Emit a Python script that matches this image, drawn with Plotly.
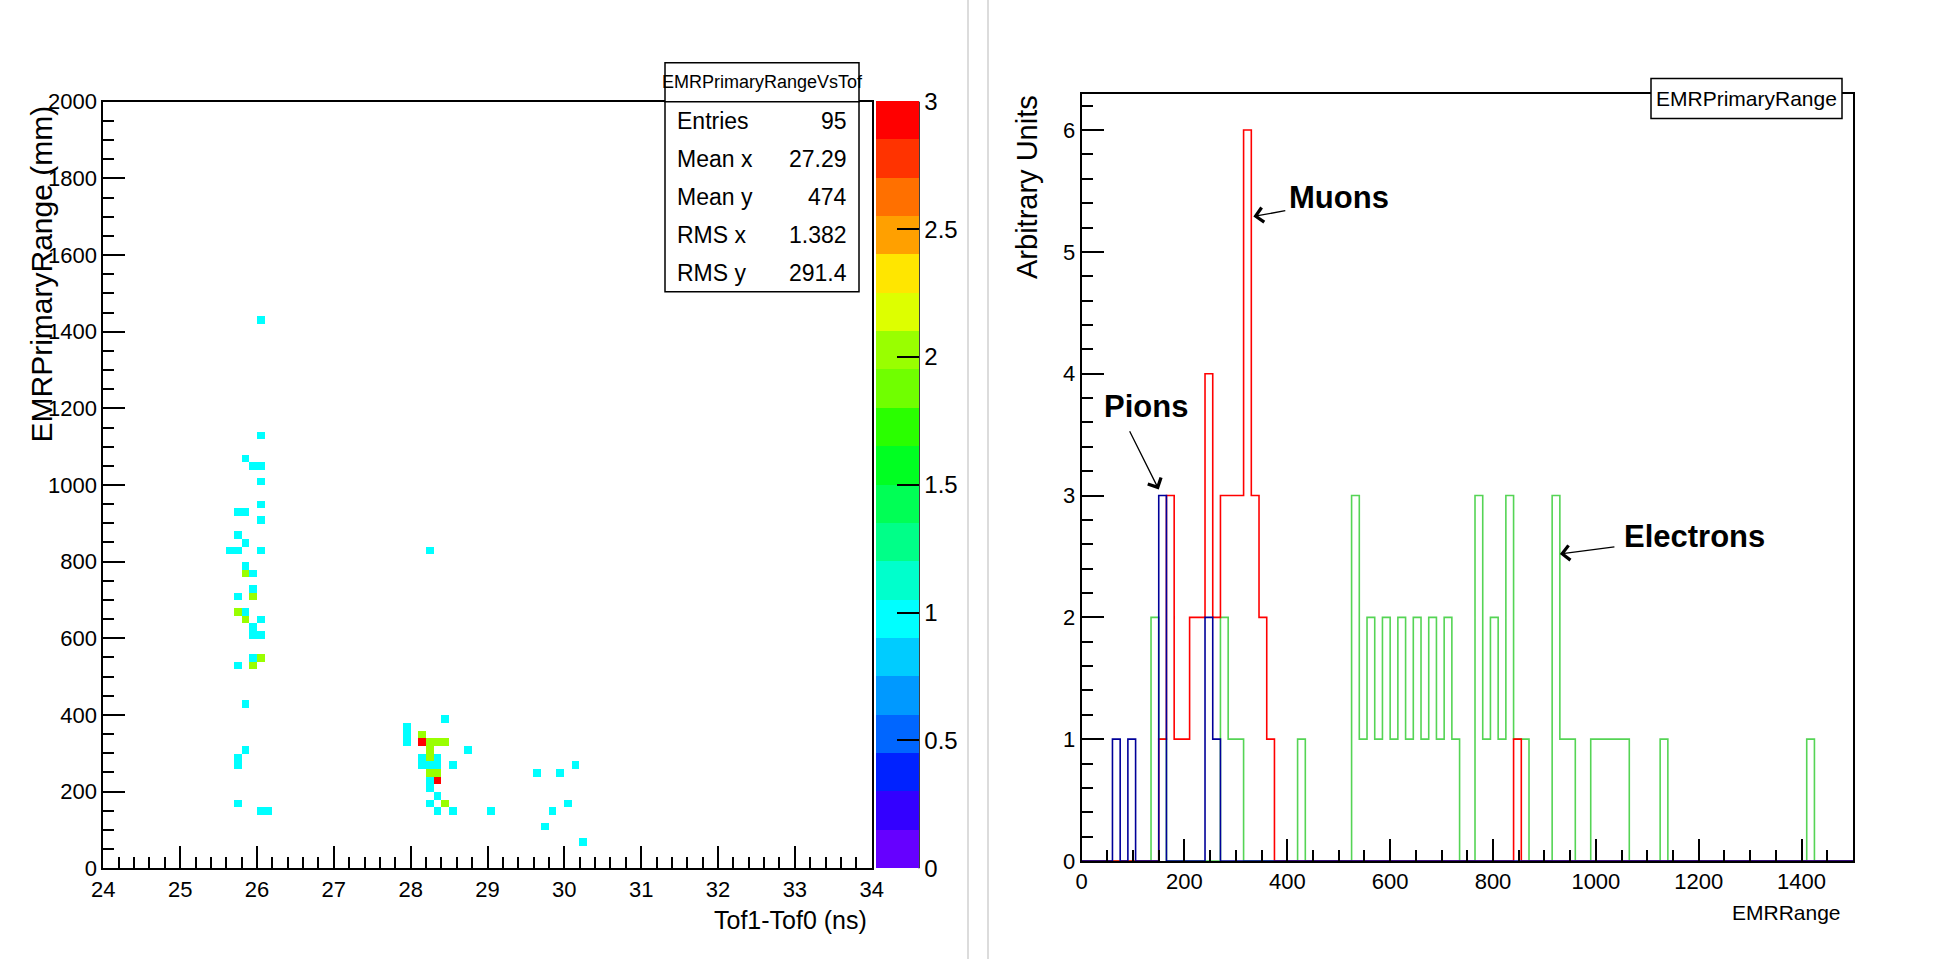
import numpy as np
import plotly.graph_objects as go

W, H = 1954, 959
FONT = "Liberation Sans Narrow, Arial Narrow, Liberation Sans, Arial, sans-serif"

# ---------------- 2D histogram: EMR primary range vs Tof1-Tof0 ----------------
# filled cells: lower bin edge in Tof (ns), lower bin edge in range (mm), entries
tof_lo = [26.0, 26.0, 25.8, 25.9, 26.0, 26.0, 26.0, 25.7, 25.8, 26.0,
          25.7, 25.8, 25.6, 25.7, 26.0, 25.8, 25.8, 25.9, 25.9, 25.7,
          25.9, 25.7, 25.8, 25.8, 26.0, 25.9, 25.9, 26.0, 25.9, 26.0,
          25.7, 25.9, 25.8, 25.8, 25.7, 25.7, 25.7, 26.0, 26.1,
          28.2, 28.4, 27.9, 27.9, 27.9, 28.1, 28.1, 28.2, 28.3, 28.4,
          28.2, 28.7, 28.1, 28.2, 28.3, 28.1, 28.2, 28.3, 28.5, 28.2,
          28.3, 28.2, 28.3, 28.2, 28.3, 28.2, 28.4, 28.3, 28.5, 29.0,
          29.6, 29.9, 30.1, 30.0, 29.8, 29.7, 30.2]
range_lo = [1420, 1120, 1060, 1040, 1040, 1000, 940, 920, 920, 900,
            860, 840, 820, 820, 820, 780, 760, 760, 720, 700,
            700, 660, 660, 640, 640, 620, 600, 600, 540, 540,
            520, 520, 420, 300, 280, 260, 160, 140, 140,
            820, 380, 360, 340, 320, 340, 320, 320, 320, 320,
            300, 300, 280, 280, 280, 260, 260, 260, 260, 240,
            240, 220, 220, 200, 180, 160, 160, 140, 140, 140,
            240, 240, 260, 160, 140, 100, 60]
cell_n = [1, 1, 1, 1, 1, 1, 1, 1, 1, 1,
          1, 1, 1, 1, 1, 1, 2, 1, 1, 1,
          2, 2, 1, 2, 1, 1, 1, 1, 1, 2,
          1, 2, 1, 1, 1, 1, 1, 1, 1,
          1, 1, 1, 1, 1, 2, 3, 2, 2, 2,
          2, 1, 1, 2, 1, 1, 1, 1, 1, 2,
          2, 1, 3, 1, 1, 1, 2, 1, 1, 1,
          1, 1, 1, 1, 1, 1, 1]

stats_labels = ["Entries", "Mean x", "Mean y", "RMS x", "RMS y"]
stats_values = ["95", "27.29", "474", "1.382", "291.4"]

TOF_MIN, TOF_MAX, TOF_W = 24.0, 34.0, 0.1
RNG_MIN, RNG_MAX, RNG_W = 0.0, 2000.0, 20.0
nx = int(round((TOF_MAX - TOF_MIN) / TOF_W))
ny = int(round((RNG_MAX - RNG_MIN) / RNG_W))
x_centers = TOF_MIN + TOF_W * (np.arange(nx) + 0.5)
y_centers = RNG_MIN + RNG_W * (np.arange(ny) + 0.5)
z = [[None] * nx for _ in range(ny)]
for t, r, n in zip(tof_lo, range_lo, cell_n):
    ix = int(round((t - TOF_MIN) / TOF_W))
    iy = int(round((r - RNG_MIN) / RNG_W))
    z[iy][ix] = (z[iy][ix] or 0) + n

# ROOT-style rainbow palette split into 20 contour bands
band_colors = ["#6600ff", "#3300ff", "#0022ff", "#0066ff", "#0099ff",
               "#00ccff", "#00ffff", "#00ffcc", "#00ff88", "#00ff55",
               "#00ff22", "#2aff00", "#70ff00", "#99ff00", "#ddff00",
               "#ffe600", "#ffa000", "#ff7000", "#ff3300", "#ff0000"]
nb = len(band_colors)
colorscale = []
for k, c in enumerate(band_colors):
    colorscale.append([k / nb, c])
    colorscale.append([(k + 1) / nb, c])

# ---------------- 1D histograms: EMR range by particle species ----------------
E_MIN, E_MAX, E_W = 0.0, 1500.0, 15.0
electron_lo = [135, 150, 270, 285, 300, 420, 525, 540, 555, 570, 585, 600,
               615, 630, 645, 660, 675, 690, 705, 720, 765, 780, 795, 810,
               825, 840, 855, 915, 930, 945, 990, 1005, 1020, 1035, 1050,
               1125, 1410]
electron_n = [2, 1, 2, 1, 1, 1, 3, 1, 2, 1, 2, 1,
              2, 1, 2, 1, 2, 1, 2, 1, 3, 1, 2, 1,
              3, 1, 1, 3, 1, 1, 1, 1, 1, 1, 1,
              1, 1]
muon_lo = [150, 165, 180, 195, 210, 225, 240, 255, 270, 285, 300, 315, 330,
           345, 360, 840]
muon_n = [1, 3, 1, 1, 2, 2, 4, 2, 3, 3, 3, 6, 3, 2, 1, 1]
pion_lo = [60, 90, 150, 240, 255]
pion_n = [1, 1, 3, 2, 1]

ne = int(round((E_MAX - E_MIN) / E_W))
edges = E_MIN + E_W * np.arange(ne + 1)


def step_counts(lo, n):
    c = np.zeros(ne)
    for e, v in zip(lo, n):
        c[int(round((e - E_MIN) / E_W))] += v
    return np.append(c, c[-1])


def px(x):
    return x / W


def py(y):
    return 1 - y / H


fig = go.Figure()

fig.add_trace(go.Heatmap(
    x=x_centers, y=y_centers, z=z, zmin=0, zmax=3,
    colorscale=colorscale, hoverongaps=False,
    xaxis="x", yaxis="y",
    colorbar=dict(
        x=px(875.7), xanchor="left", y=py(868.3), yanchor="bottom",
        len=(868.3 - 101.7) / H, lenmode="fraction",
        thickness=43, thicknessmode="pixels", xpad=0, ypad=0,
        outlinewidth=0, ticks="inside", ticklen=22, tickwidth=1.5,
        tickcolor="black", tickvals=[0, 0.5, 1, 1.5, 2, 2.5, 3],
        ticktext=["0", "0.5", "1", "1.5", "2", "2.5", "3"],
        tickfont=dict(family=FONT, size=24, color="black"),
    ),
))

for lo, n, col in [(electron_lo, electron_n, "#55d455"),
                   (muon_lo, muon_n, "#ff0000"),
                   (pion_lo, pion_n, "#000099")]:
    fig.add_trace(go.Scatter(
        x=edges, y=step_counts(lo, n), mode="lines",
        line=dict(color=col, width=1.6, shape="hv"),
        xaxis="x2", yaxis="y2", showlegend=False, hoverinfo="skip",
    ))

axis_common = dict(
    showline=True, linecolor="black", linewidth=2, mirror=True,
    showgrid=False, zeroline=False, ticks="inside", tickcolor="black",
    tickwidth=1.5, tickfont=dict(family=FONT, size=22, color="black"),
)

fig.update_layout(
    width=W, height=H,
    margin=dict(l=0, r=0, t=0, b=0, autoexpand=False),
    paper_bgcolor="white", plot_bgcolor="white", showlegend=False,
    font=dict(family=FONT, color="black"),
    xaxis=dict(domain=[px(103.3), px(871.7)], range=[TOF_MIN, TOF_MAX],
               tick0=24, dtick=1, ticklen=22,
               minor=dict(ticks="inside", ticklen=11, dtick=0.2,
                          tickcolor="black", tickwidth=1.5),
               anchor="y", **axis_common),
    yaxis=dict(domain=[py(868.3), py(101.7)], range=[RNG_MIN, RNG_MAX],
               tick0=0, dtick=200, ticklen=22,
               minor=dict(ticks="inside", ticklen=11, dtick=50,
                          tickcolor="black", tickwidth=1.5),
               anchor="x", **axis_common),
    xaxis2=dict(domain=[px(1081.6), px(1853)], range=[E_MIN, E_MAX],
                tick0=0, dtick=200, ticklen=22,
                minor=dict(ticks="inside", ticklen=11, dtick=50,
                           tickcolor="black", tickwidth=1.5),
                anchor="y2", **axis_common),
    yaxis2=dict(domain=[py(861), py(93.5)], range=[0, 6.3],
                tick0=0, dtick=1, ticklen=22,
                minor=dict(ticks="inside", ticklen=11, dtick=0.2,
                           tickcolor="black", tickwidth=1.5),
                anchor="x2", **axis_common),
)

shapes = [
    # pad borders
    dict(type="line", xref="paper", yref="paper", x0=px(968), x1=px(968),
         y0=0, y1=1, line=dict(color="#d0d0d0", width=1.5)),
    dict(type="line", xref="paper", yref="paper", x0=px(988), x1=px(988),
         y0=0, y1=1, line=dict(color="#d0d0d0", width=1.5)),
    # palette axis line
    dict(type="line", xref="paper", yref="paper", x0=px(919), x1=px(919),
         y0=py(868.3), y1=py(101.7), line=dict(color="black", width=1.5)),
    # stats title and stats box
    dict(type="rect", xref="paper", yref="paper", x0=px(665), x1=px(859),
         y0=py(101.7), y1=py(62.7), fillcolor="white",
         line=dict(color="black", width=1.5)),
    dict(type="rect", xref="paper", yref="paper", x0=px(665), x1=px(859),
         y0=py(291.7), y1=py(101.7), fillcolor="white",
         line=dict(color="black", width=1.5)),
    # right histogram title box
    dict(type="rect", xref="paper", yref="paper", x0=px(1651), x1=px(1842),
         y0=py(118.4), y1=py(78.5), fillcolor="white",
         line=dict(color="black", width=1.5)),
]
fig.update_layout(shapes=shapes)


def paper_text(text, x, y, size, xanchor="center", yanchor="middle", angle=0):
    return dict(text=text, x=px(x), y=py(y), xref="paper", yref="paper",
                xanchor=xanchor, yanchor=yanchor, textangle=angle,
                showarrow=False, font=dict(size=size))


ann = [paper_text("EMRPrimaryRangeVsTof", 762, 82.5, 18)]
row_y = [120.7, 158.7, 196.7, 234.7, 272.7]
for lab, val, yy in zip(stats_labels, stats_values, row_y):
    ann.append(paper_text(lab, 675, yy, 23, xanchor="left"))
    ann.append(paper_text(val, 849, yy, 23, xanchor="right"))
ann.append(paper_text("EMRPrimaryRange (mm)", 41, 104, 30, yanchor="top",
                      angle=-90))
ann.append(paper_text("Tof1-Tof0 (ns)", 869, 920, 25, xanchor="right"))
ann.append(paper_text("EMRPrimaryRange", 1746.5, 98.5, 21))
ann.append(paper_text("Arbitrary Units", 1027, 93, 29, yanchor="top",
                      angle=-90))
ann.append(paper_text("EMRRange", 1843, 912, 21, xanchor="right"))

# particle labels and arrows on the range histogram
labels = [("Muons", 399, 5.45, "left", (399, 5.34), (334, 5.29)),
          ("Pions", 125, 3.73, "center", (92, 3.54), (150, 3.05)),
          ("Electrons", 1051, 2.66, "left", (1039, 2.58), (930, 2.52))]
for txt, tx, ty, anc, tail, head in labels:
    ann.append(dict(text="<b>%s</b>" % txt, x=tx, y=ty, xref="x2", yref="y2",
                    xanchor=anc, yanchor="middle", showarrow=False,
                    font=dict(size=31)))
    ann.append(dict(text="", x=head[0], y=head[1], ax=tail[0], ay=tail[1],
                    xref="x2", yref="y2", axref="x2", ayref="y2",
                    showarrow=True, arrowhead=4, arrowsize=2.2,
                    arrowwidth=1.3, arrowcolor="black", standoff=0,
                    startstandoff=0))
fig.update_layout(annotations=ann)

fig.write_html("out.html")
